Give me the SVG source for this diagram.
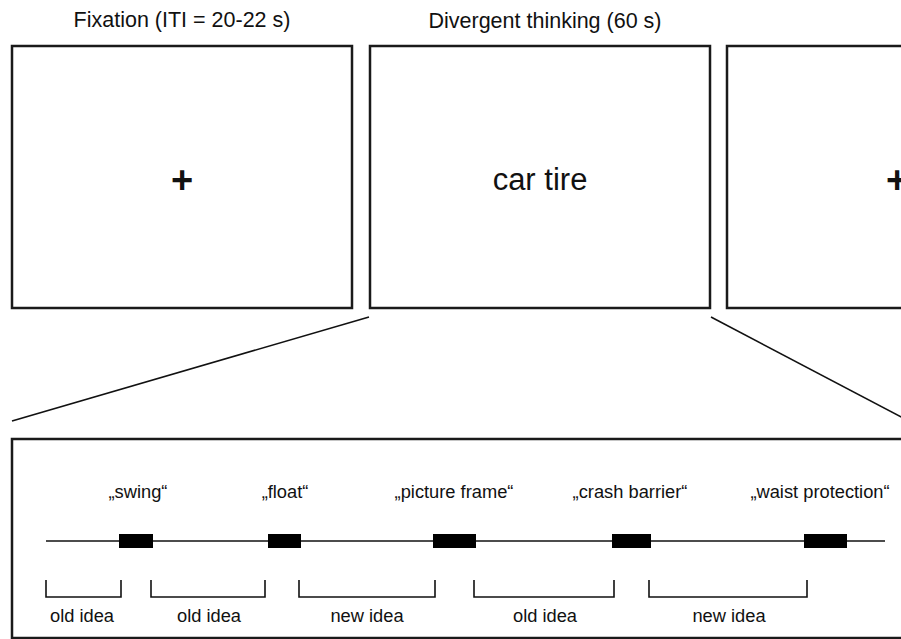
<svg xmlns="http://www.w3.org/2000/svg" width="901" height="639" viewBox="0 0 901 639">
<style>
.box{fill:#fff;stroke:#1a1a1a;stroke-width:2.5}
.t{font-family:"Liberation Sans",Arial,sans-serif;fill:#111}
.ttl{font-size:21.5px;text-anchor:middle}
.plus{font-size:38px;font-weight:bold;text-anchor:middle}
.lbl{font-size:18.3px;text-anchor:middle}
.con{stroke:#111;stroke-width:1.6;fill:none}
.tick{fill:#000}
</style>
<rect width="901" height="639" fill="#fff"/>
<g id="fixation1">
<text class="t ttl" x="182" y="27">Fixation (ITI = 20-22 s)</text>
<rect class="box" x="12" y="46" width="340" height="262"/>
<text class="t plus" x="182" y="193">+</text>
</g>
<g id="divergent">
<text class="t ttl" x="545" y="28">Divergent thinking (60 s)</text>
<rect class="box" x="370" y="46" width="340" height="262"/>
<text class="t" x="540" y="190" font-size="31" text-anchor="middle">car tire</text>
</g>
<g id="fixation2">
<rect class="box" x="727" y="46" width="340" height="262"/>
<text class="t plus" x="897" y="193">+</text>
</g>
<g id="connectors">
<line class="con" x1="369" y1="317" x2="12" y2="421"/>
<line class="con" x1="711" y1="317" x2="905" y2="419"/>
</g>
<g id="timeline">
<rect class="box" x="12" y="439" width="900" height="199"/>
<line class="con" x1="46" y1="541" x2="885" y2="541"/>
<rect class="tick" x="119" y="534" width="34" height="14"/>
<rect class="tick" x="268" y="534" width="33" height="14"/>
<rect class="tick" x="433" y="534" width="43" height="14"/>
<rect class="tick" x="612" y="534" width="39" height="14"/>
<rect class="tick" x="804" y="534" width="43" height="14"/>
<text class="t lbl" x="138" y="498">„swing“</text>
<text class="t lbl" x="285" y="498">„float“</text>
<text class="t lbl" x="454" y="498">„picture frame“</text>
<text class="t lbl" x="630" y="498">„crash barrier“</text>
<text class="t lbl" x="820" y="498">„waist protection“</text>
<path class="con" d="M46 580V597H121V580 M151 580V597H265V580 M299 580V597H435V580 M474 580V597H614V580 M649 580V597H807V580"/>
<text class="t lbl" x="82" y="622">old idea</text>
<text class="t lbl" x="209" y="622">old idea</text>
<text class="t lbl" x="367" y="622">new idea</text>
<text class="t lbl" x="545" y="622">old idea</text>
<text class="t lbl" x="729" y="622">new idea</text>
</g>
</svg>
